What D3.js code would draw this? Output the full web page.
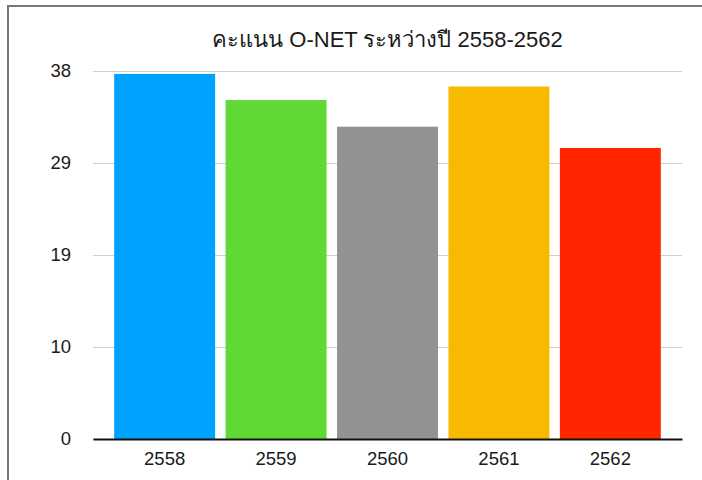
<!DOCTYPE html>
<html>
<head>
<meta charset="utf-8">
<script src="https://cdn.jsdelivr.net/npm/d3@7"></script>
<style>
  body { margin: 0; background: #fff; }
  svg { display: block; font-family: "Liberation Sans", Arial, "Noto Sans", sans-serif; }
</style>
</head>
<body>
<svg id="chart"></svg>
<script>
const width = 702;
const height = 480;

// data
const years = ["2558", "2559", "2560", "2561", "2562"];
const scores = [37.7, 35.0, 32.25, 36.4, 30.05];
const barColors = ["#00A2FF", "#61D836", "#929292", "#F8BA00", "#FF2600"];
const yTicks = [0, 9.5, 19, 28.5, 38];
const title = "คะแนน O-NET ระหว่างปี 2558-2562";

const margin = { top: 71, right: 20, bottom: 41, left: 93 };

let svg = d3.select("#chart")
  .attr("width", width)
  .attr("height", height);

// frame around the chart (runs off the right and bottom edges)
svg.append("rect")
  .attr("x", 8)
  .attr("y", 6)
  .attr("width", width + 20)
  .attr("height", height + 20)
  .attr("fill", "none")
  .attr("stroke", "#777")
  .attr("stroke-width", 2);

const x = d3.scaleBand()
  .domain(years)
  .range([margin.left, width - margin.right])
  .paddingInner(0.094)
  .paddingOuter(0.19);

const y = d3.scaleLinear()
  .domain([0, 38])
  .range([height - margin.bottom, margin.top]);

// gridlines + y labels
const yAxis = d3.axisLeft(y)
  .tickValues(yTicks)
  .tickSize(-(width - margin.right - margin.left))
  .tickPadding(22)
  .tickFormat(d => Math.round(d));

const gy = svg.append("g")
  .attr("transform", `translate(${margin.left},0)`)
  .call(yAxis);
gy.select(".domain").remove();
gy.selectAll(".tick line")
  .attr("stroke", "#d0d0d0")
  .attr("stroke-width", 1);
gy.selectAll(".tick text")
  .attr("font-size", "18.5px")
  .attr("fill", "#1a1a1a");

// bars
svg.selectAll("rect.bar")
  .data(years)
  .enter()
  .append("rect")
  .attr("class", "bar")
  .attr("x", d => x(d))
  .attr("y", (d, i) => y(scores[i]))
  .attr("width", x.bandwidth())
  .attr("height", (d, i) => y(0) - y(scores[i]))
  .attr("fill", (d, i) => barColors[i]);

// x axis
const gx = svg.append("g")
  .attr("transform", `translate(0,${y(0)})`)
  .call(d3.axisBottom(x).tickSize(0).tickPadding(13));
gx.select(".domain")
  .attr("stroke", "#111")
  .attr("stroke-width", 2);
gx.selectAll(".tick text")
  .attr("font-size", "18.5px")
  .attr("fill", "#1a1a1a");

// title
svg.append("text")
  .attr("x", (margin.left + width - margin.right) / 2)
  .attr("y", 47)
  .attr("text-anchor", "middle")
  .attr("font-size", "22px")
  .attr("fill", "#1a1a1a")
  .text(title);
</script>
</body>
</html>
